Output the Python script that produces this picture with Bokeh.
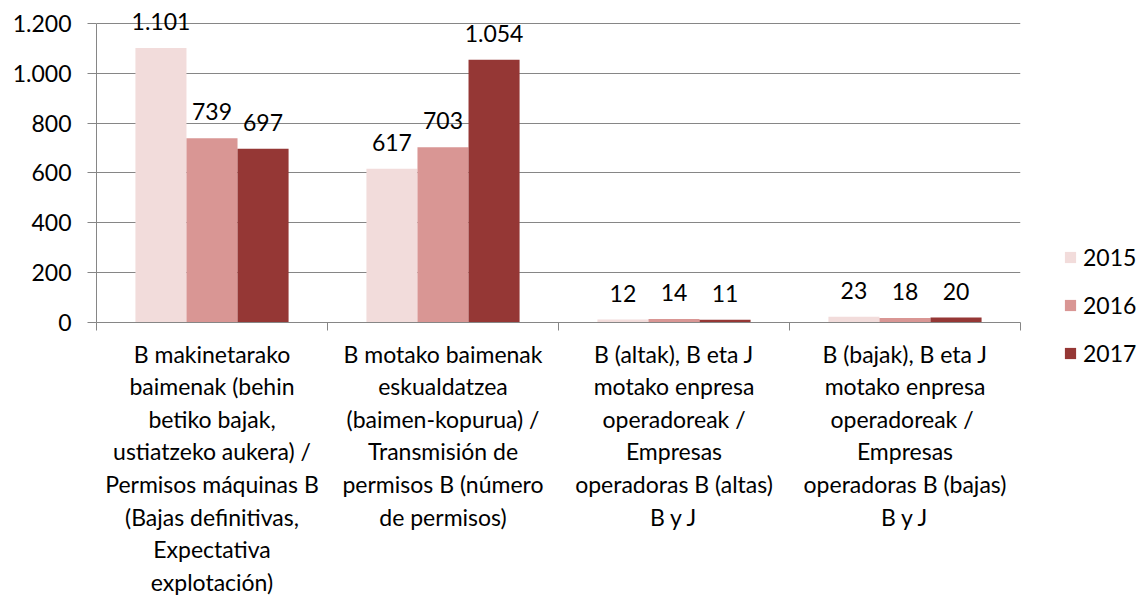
from bokeh.plotting import figure
from bokeh.models import (ColumnDataSource, LabelSet, Legend, LegendItem, Range1d,
                          FixedTicker)
from bokeh.core.properties import value
from bokeh.embed import file_html
from bokeh.resources import INLINE

categories = [
    "B makinetarako\nbaimenak (behin\nbetiko bajak,\nustiatzeko aukera) /\nPermisos máquinas B\n(Bajas definitivas,\nExpectativa\nexplotación)",
    "B motako baimenak\neskualdatzea\n(baimen-kopurua) /\nTransmisión de\npermisos B (número\nde permisos)",
    "B (altak), B eta J\nmotako enpresa\noperadoreak /\nEmpresas\noperadoras B (altas)\nB y J",
    "B (bajak), B eta J\nmotako enpresa\noperadoreak  /\nEmpresas\noperadoras B (bajas)\nB y J",
]
series_names = ["2015", "2016", "2017"]
values_2015 = [1101, 617, 12, 23]
values_2016 = [739, 703, 14, 18]
values_2017 = [697, 1054, 11, 20]
colors = ["#F2DCDB", "#D99694", "#953735"]
y_ticks = [0, 200, 400, 600, 800, 1000, 1200]
y_tick_labels = ["0", "200", "400", "600", "800", "1.000", "1.200"]

FONT = "Lato"
FS = "23px"
GRID = "#868686"

def fmt(v):
    return f"{v:,}".replace(",", ".")

p = figure(frame_width=924, frame_height=322, output_backend="svg", toolbar_location=None,
           x_range=Range1d(0, len(categories)), y_range=Range1d(0, 1292),
           min_border_left=96, min_border_right=125, min_border_top=0,
           min_border_bottom=270)
p.outline_line_color = None
p.background_fill_color = "white"
p.border_fill_color = "white"

bar_w = 0.221
offsets = [-bar_w, 0.0, bar_w]
all_vals = [values_2015, values_2016, values_2017]
items = []
for name, vals, col, off in zip(series_names, all_vals, colors, offsets):
    xs = [i + 0.5 + off for i in range(len(categories))]
    src = ColumnDataSource(dict(x=xs, top=vals, lbl=[fmt(v) for v in vals]))
    r = p.vbar(x="x", top="top", width=bar_w, source=src, fill_color=col, line_color=None)
    items.append(LegendItem(label=name, renderers=[r]))
    p.add_layout(LabelSet(x="x", y="top", text="lbl", source=src, text_align="center",
                          text_baseline="alphabetic", y_offset=18,
                          text_font=value(FONT), text_font_size=FS, text_color="#000000"))

# y axis
p.yaxis.ticker = FixedTicker(ticks=y_ticks)
p.yaxis.bounds = (y_ticks[0], y_ticks[-1])
p.yaxis.major_label_overrides = dict(zip(y_ticks, y_tick_labels))
p.yaxis.major_label_text_font = FONT
p.yaxis.major_label_text_font_size = FS
p.yaxis.major_label_text_color = "#000000"
p.yaxis.axis_line_color = GRID
p.yaxis.major_tick_line_color = GRID
p.yaxis.major_tick_in = 0
p.yaxis.major_tick_out = 9
p.yaxis.minor_tick_line_color = None
p.yaxis.major_label_standoff = 16

# x axis: category labels at centres, tick marks at boundaries
centers = [i + 0.5 for i in range(len(categories))]
bounds_ticks = list(range(len(categories) + 1))
p.xaxis.ticker = FixedTicker(ticks=centers, minor_ticks=bounds_ticks)
p.xaxis.major_label_overrides = dict(zip(centers, categories))
p.xaxis.major_label_text_font = FONT
p.xaxis.major_label_text_font_size = FS
p.xaxis.major_label_text_color = "#000000"
p.xaxis.major_label_text_line_height = 1.165
p.xaxis.major_label_standoff = 9
p.xaxis.axis_line_color = GRID
p.xaxis.major_tick_line_color = None
p.xaxis.minor_tick_line_color = GRID
p.xaxis.minor_tick_in = 0
p.xaxis.minor_tick_out = 8

p.xgrid.grid_line_color = None
p.ygrid.ticker = FixedTicker(ticks=y_ticks)
p.ygrid.grid_line_color = GRID
p.ygrid.grid_line_width = 1

legend = Legend(items=items, location=(43, -45), orientation="vertical",
                glyph_width=14, glyph_height=14, label_height=20, spacing=20,
                label_standoff=6, padding=0, margin=0,
                border_line_color=None, background_fill_alpha=0,
                label_text_font=FONT, label_text_font_size=FS, label_text_color="#000000")
p.add_layout(legend, "right")

open("out.html", "w").write(file_html(p, INLINE))
